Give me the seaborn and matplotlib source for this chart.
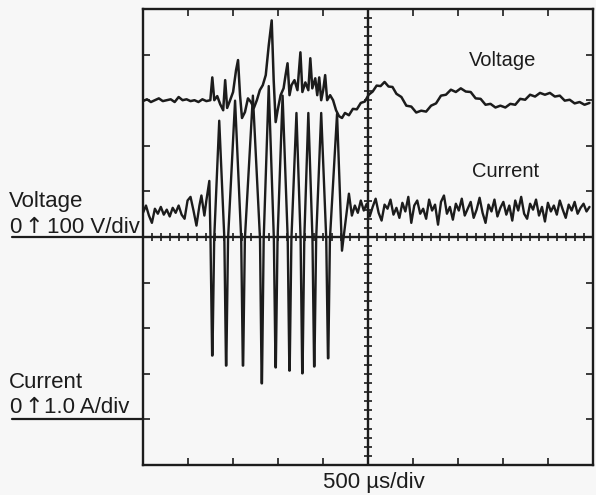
import numpy as np
import pandas as pd
import matplotlib
matplotlib.use("Agg")
import matplotlib.pyplot as plt
import seaborn as sns

# ---------------- data (time in microseconds) ----------------
volt_t = [0, 44, 88, 132, 176, 220, 264, 308, 352, 396, 440, 484, 528, 572, 616, 660, 704, 748,
          770, 792, 825, 858, 891, 913, 935, 968, 1001, 1034, 1056, 1078, 1100, 1133, 1166, 1199,
          1232, 1265, 1298, 1331, 1364, 1397, 1430, 1452, 1474, 1496, 1529, 1562, 1584, 1606,
          1628, 1650, 1683, 1716, 1749, 1771, 1804, 1837, 1859, 1881, 1914, 1936, 1958, 1980,
          2002, 2024, 2046, 2079, 2112, 2145, 2178, 2211, 2244, 2288, 2332, 2376, 2420, 2464,
          2508, 2552, 2596, 2640, 2684, 2728, 2772, 2816, 2871, 2926, 2981, 3036, 3091, 3146,
          3201, 3256, 3311, 3366, 3421, 3476, 3531, 3586, 3641, 3696, 3751, 3806, 3861, 3916,
          3971, 4026, 4081, 4136, 4191, 4246, 4301, 4356, 4411, 4466, 4521, 4576, 4631, 4686,
          4741, 4796, 4851, 4906, 4961]
volt_v = [298, 302, 296, 300, 304, 298, 300, 302, 296, 307, 300, 302, 298, 300, 296, 302, 298, 300,
          350, 300, 309, 291, 278, 344, 283, 300, 318, 366, 388, 311, 261, 274, 304, 296,
          283, 300, 322, 333, 355, 420, 475, 344, 252, 278, 311, 326, 355, 381,
          311, 333, 344, 322, 405, 318, 339, 322, 392, 326, 348, 311, 350, 300,
          322, 355, 300, 311, 300, 278, 265, 261, 272, 267, 281, 280, 294, 297,
          312, 319, 332, 331, 340, 330, 329, 314, 307, 288, 286, 273, 277, 275,
          288, 293, 310, 312, 323, 318, 326, 319, 318, 304, 303, 290, 292, 284,
          288, 284, 292, 290, 303, 301, 312, 308, 316, 312, 316, 308, 310, 299,
          301, 293, 296, 290, 294]

curr_t = [0, 33, 66, 99, 132, 165, 198, 231, 264, 297, 330, 363, 396, 429, 462, 495, 528, 561,
          594, 627, 649, 682, 704, 737,
          750, 768, 772, 791, 847, 904, 922, 926, 945, 1023, 1091, 1109, 1113, 1132, 1221,
          1300, 1318, 1322, 1341, 1397, 1454, 1472, 1476, 1495, 1551, 1608, 1626, 1630, 1649,
          1705, 1751, 1769, 1773, 1792, 1837, 1883, 1901, 1905, 1924, 1980,
          2036, 2055, 2059, 2077, 2156, 2211, 2288,
          2321, 2354, 2387, 2420, 2453, 2486, 2519, 2552, 2585, 2618, 2651, 2684, 2717, 2750,
          2783, 2816, 2849, 2882, 2915, 2948, 2981, 3014, 3047, 3080, 3113, 3146, 3179, 3212,
          3245, 3278, 3311, 3344, 3377, 3410, 3443, 3476, 3509, 3542, 3575, 3608, 3641, 3674,
          3707, 3740, 3773, 3806, 3839, 3872, 3905, 3938, 3971, 4004, 4037, 4070, 4103, 4136,
          4169, 4202, 4235, 4268, 4301, 4334, 4367, 4400, 4433, 4466, 4499, 4532, 4565, 4598,
          4631, 4664, 4697, 4730, 4763, 4796, 4829, 4862, 4895, 4928, 4961]
curr_a = [4.53, 4.69, 4.47, 4.31, 4.62, 4.51, 4.66, 4.49, 4.60, 4.45, 4.64, 4.53, 4.69, 4.49,
          4.40, 4.80, 4.88, 4.58, 4.25, 4.69, 4.91, 4.47, 4.80, 5.23,
          3.96, 1.40, 1.40, 3.96, 6.55,
          3.96, 1.18, 1.18, 3.96, 6.99,
          3.96, 1.18, 1.18, 3.96, 7.10,
          3.96, 0.79, 0.79, 3.96, 7.31,
          3.96, 1.14, 1.14, 3.96, 7.10,
          3.96, 1.07, 1.07, 3.96, 6.72,
          3.96, 1.01, 1.01, 3.96, 6.72,
          3.96, 1.16, 1.16, 3.96, 6.72,
          3.96, 1.34, 1.34, 3.96, 6.70, 3.70, 4.95,
          4.47, 4.69, 4.53, 4.80, 4.58, 4.73, 4.45, 4.66, 4.84, 4.53, 4.36, 4.71, 4.62, 4.82,
          4.49, 4.64, 4.42, 4.75, 4.56, 4.88, 4.31, 4.69, 4.80, 4.51, 4.62, 4.40, 4.82, 4.58,
          4.71, 4.27, 4.77, 4.91, 4.51, 4.66, 4.38, 4.73, 4.58, 4.84, 4.47, 4.62, 4.77, 4.42,
          4.60, 4.86, 4.53, 4.31, 4.71, 4.56, 4.82, 4.45, 4.64, 4.77, 4.49, 4.69, 4.36, 4.80,
          4.58, 4.88, 4.51, 4.40, 4.73, 4.60, 4.82, 4.47, 4.66, 4.34, 4.75, 4.56, 4.69, 4.49,
          4.80, 4.60, 4.42, 4.71, 4.58, 4.77, 4.51, 4.64, 4.73, 4.56, 4.66]

x_div = 500      # µs/div
v_div = 100      # V/div
a_div = 1.0      # A/div

volt = pd.DataFrame({"t": volt_t, "v": volt_v})
curr = pd.DataFrame({"t": curr_t, "a": curr_a})

# ---------------- style ----------------
sns.set_theme(style="white")
plt.rcParams["font.family"] = ["Liberation Sans", "DejaVu Sans"]
bg = "#f7f7f7"
ink = "#1c1c1c"

W, H = 596, 495
fig = plt.figure(figsize=(W / 100, H / 100), dpi=100, facecolor=bg)
L, R, T, B = 143, 593, 9, 465
ax = fig.add_axes([L / W, 1 - B / H, (R - L) / W, (B - T) / H])
ax.set_facecolor(bg)

ax.set_xlim(0, 10 * x_div)
ax.set_ylim(-5 * v_div, 5 * v_div)

ax2 = ax.twinx()
ax2.set_ylim(-1 * a_div, 9 * a_div)   # current zero is 4 div below centre

sns.lineplot(data=volt, x="t", y="v", ax=ax, sort=False, estimator=None,
             color=ink, linewidth=1.8)
sns.lineplot(data=curr, x="t", y="a", ax=ax2, sort=False, estimator=None,
             color=ink, linewidth=1.7)

for a in (ax, ax2):
    a.set_xlabel("")
    a.set_ylabel("")

ax2.set_yticks([])
ax2.set_xticks([])
for s in ax2.spines.values():
    s.set_visible(False)

# frame and graticule
for s in ax.spines.values():
    s.set_visible(True)
    s.set_color(ink)
    s.set_linewidth(1.7)
ax.set_xticks(np.arange(0, 10 * x_div + 1, x_div))
ax.set_yticks(np.arange(-5 * v_div, 5 * v_div + 1, v_div))
ax.tick_params(direction="in", length=5, width=1.2, color=ink,
               top=True, right=True, bottom=True, left=True,
               labelbottom=False, labelleft=False)

ax.axhline(0, color=ink, linewidth=1.7, zorder=1)
ax.axvline(5 * x_div, color=ink, linewidth=1.7, zorder=1)
mx = np.arange(0, 10 * x_div + 1, x_div / 5)
my = np.arange(-5 * v_div, 5 * v_div + 1, v_div / 5)
ax.plot(mx, np.zeros_like(mx), linestyle="none", marker="|", markersize=6,
        markeredgewidth=1.2, color=ink, zorder=1)
ax.plot(np.full_like(my, 5 * x_div), my, linestyle="none", marker="_", markersize=6,
        markeredgewidth=1.2, color=ink, zorder=1)

# ---------------- text ----------------
def ftext(x, y, s, fs=14.5, family=None, **kw):
    extra = {"family": family} if family else {}
    fig.text(x / W, 1 - y / H, s, fontsize=fs, color=ink, va="baseline", **extra, **kw)

big = 16
ftext(9, 207, "Voltage", big)
ftext(9, 233, "0", big)
ftext(34, 233, "↑", big, family=["DejaVu Sans"], ha="center")
ftext(47, 233, "100 V/div", big)
ftext(9, 388, "Current", big)
ftext(9, 413, "0", big)
ftext(34, 413, "↑", big, family=["DejaVu Sans"], ha="center")
ftext(44, 413, "1.0 A/div", big)
ftext(469, 66, "Voltage")
ftext(472, 177, "Current")
ftext(374, 488, "500 µs/div", big, ha="center")

# underlines joining the zero-level lines
trans = ax.get_yaxis_transform()
ax.plot([-(L - 12) / (R - L), 0], [0, 0], transform=trans, clip_on=False,
        color=ink, linewidth=1.6)
ax.plot([-(L - 12) / (R - L), 0], [-4 * v_div, -4 * v_div], transform=trans,
        clip_on=False, color=ink, linewidth=1.6)

fig.savefig("out.png", dpi=100, facecolor=bg)
